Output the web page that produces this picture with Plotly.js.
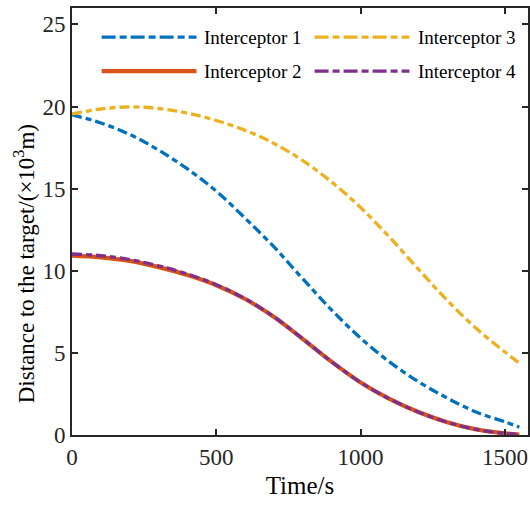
<!DOCTYPE html>
<html>
<head>
<meta charset="utf-8">
<script src="https://cdn.plot.ly/plotly-3.0.1.min.js"></script>
<style>html,body{margin:0;padding:0;background:#fff;}#chart{width:530px;height:507px;}</style>
</head>
<body>
<div id="chart"></div>
<script>
const time = [0,100,200,300,400,500,600,700,800,900,1000,1100,1200,1300,1400,1500,1550];
const interceptor1 = [19.5,19.0,18.3,17.35,16.2,14.85,13.2,11.45,9.5,7.6,5.9,4.45,3.25,2.25,1.4,0.8,0.48];
const interceptor2 = [10.92,10.82,10.6,10.22,9.74,9.12,8.28,7.18,5.84,4.45,3.2,2.2,1.4,0.78,0.34,0.1,0.03];
const interceptor3 = [19.55,19.85,19.98,19.88,19.6,19.15,18.55,17.75,16.7,15.4,13.85,12.05,10.1,8.2,6.5,5.05,4.38];
const interceptor4 = [11.02,10.92,10.68,10.3,9.8,9.15,8.3,7.2,5.85,4.45,3.2,2.2,1.4,0.78,0.34,0.1,0.03];
const seriesNames = ["Interceptor 1","Interceptor 2","Interceptor 3","Interceptor 4"];
const xTicks = [0,500,1000,1500];
const yTicks = [0,5,10,15,20,25];
const xTitle = "Time/s";
const yTitle = "Distance to the target/(×10<sup>3</sup>m)";

const colors = ["#0072BD","#D95319","#EDB120","#7E2F8E"];
const curveDash = "10px,4px,6px,4px";
const legendDash = "14px,4px,7px,4px";
const dashes = [curveDash, "solid", curveDash, curveDash];
const widths = [3.3, 4.2, 3.3, 3.3];
const ys = [interceptor1, interceptor2, interceptor3, interceptor4];
const font = "Liberation Serif";
const axisColor = "#262626";

const traces = ys.map((y, i) => ({
  x: time, y: y, type: "scatter", mode: "lines", name: seriesNames[i],
  line: {color: colors[i], width: widths[i], dash: dashes[i], shape: "spline", smoothing: 1},
  showlegend: false
}));

// custom legend (2 columns x 2 rows) in paper coordinates
const legendPos = [
  {x0: 0.065, x1: 0.273, tx: 0.285, y: 0.932},
  {x0: 0.065, x1: 0.273, tx: 0.285, y: 0.852},
  {x0: 0.532, x1: 0.740, tx: 0.755, y: 0.932},
  {x0: 0.532, x1: 0.740, tx: 0.755, y: 0.852}
];
const shapes = legendPos.map((p, i) => ({
  type: "line", xref: "paper", yref: "paper", x0: p.x0, x1: p.x1, y0: p.y, y1: p.y,
  line: {color: colors[i], width: i === 1 ? 4.2 : 3.3, dash: i === 1 ? "solid" : legendDash}
}));
const annotations = legendPos.map((p, i) => ({
  xref: "paper", yref: "paper", x: p.tx, y: p.y, xanchor: "left", yanchor: "middle",
  text: seriesNames[i], showarrow: false, font: {family: font, size: 19, color: "#000"}
}));
annotations.push({
  xref: "paper", yref: "paper", x: -0.105, y: 0.40, xanchor: "center", yanchor: "middle",
  textangle: -90, text: yTitle, showarrow: false, font: {family: font, size: 23, color: "#000"}
});

const axisCommon = {
  showline: true, linewidth: 2, linecolor: axisColor, mirror: "ticks",
  ticks: "inside", ticklen: 6, tickwidth: 2, tickcolor: axisColor,
  showgrid: false, zeroline: false,
  tickfont: {family: font, size: 23, color: axisColor}
};

const layout = {
  width: 530, height: 507,
  margin: {l: 72, r: 2, t: 8, b: 72},
  paper_bgcolor: "#fff", plot_bgcolor: "#fff",
  showlegend: false,
  xaxis: Object.assign({}, axisCommon, {
    range: [0, 1580], tickvals: xTicks, ticktext: xTicks.map(String),
    title: {text: xTitle, font: {family: font, size: 25, color: "#000"}, standoff: 8}
  }),
  yaxis: Object.assign({}, axisCommon, {
    range: [0, 26], tickvals: yTicks, ticktext: yTicks.map(String)
  }),
  shapes: shapes,
  annotations: annotations
};

Plotly.newPlot("chart", traces, layout, {displayModeBar: false, staticPlot: true});
</script>
</body>
</html>
